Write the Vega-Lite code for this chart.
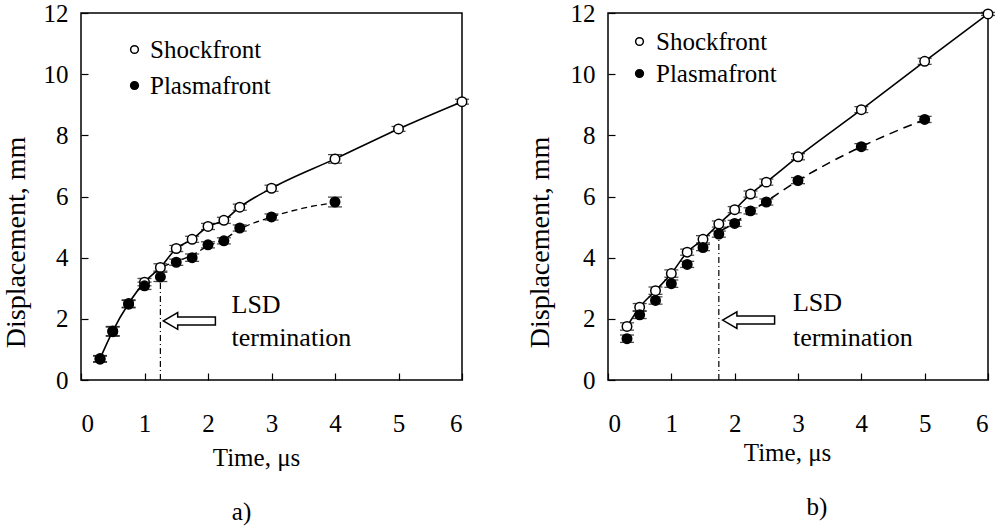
{
  "$schema": "https://vega.github.io/schema/vega-lite/v6.json",
  "background": "white",
  "padding": {"left": 1, "top": 0, "right": 5, "bottom": 0},
  "config": {
    "font": "Liberation Serif",
    "view": {"stroke": "black", "strokeWidth": 1.5},
    "axis": {
      "grid": false, "domain": false,
      "labelFont": "Liberation Serif", "labelFontSize": 25, "labelColor": "black",
      "titleFont": "Liberation Serif", "titleFontSize": 25, "titleFontWeight": "normal", "titleColor": "black",
      "tickColor": "black", "tickSize": -7, "tickWidth": 1.2
    },
    "legend": {"labelFont": "Liberation Serif", "labelFontSize": 25, "labelColor": "black"},
    "title": {"font": "Liberation Serif", "fontSize": 25, "fontWeight": "normal", "color": "black"}
  },
  "datasets": {
    "ptsA": [
      {"t": 0.3, "v": 0.7, "err": 0.1, "series": "Shockfront"},
      {"t": 0.5, "v": 1.6, "err": 0.15, "series": "Shockfront"},
      {"t": 0.75, "v": 2.5, "err": 0.12, "series": "Shockfront"},
      {"t": 1.0, "v": 3.2, "err": 0.12, "series": "Shockfront"},
      {"t": 1.25, "v": 3.68, "err": 0.12, "series": "Shockfront"},
      {"t": 1.5, "v": 4.3, "err": 0.1, "series": "Shockfront"},
      {"t": 1.75, "v": 4.6, "err": 0.1, "series": "Shockfront"},
      {"t": 2.0, "v": 5.02, "err": 0.1, "series": "Shockfront"},
      {"t": 2.25, "v": 5.22, "err": 0.1, "series": "Shockfront"},
      {"t": 2.5, "v": 5.65, "err": 0.1, "series": "Shockfront"},
      {"t": 3.0, "v": 6.27, "err": 0.1, "series": "Shockfront"},
      {"t": 4.0, "v": 7.23, "err": 0.14, "series": "Shockfront"},
      {"t": 5.0, "v": 8.21, "err": 0.08, "series": "Shockfront"},
      {"t": 6.0, "v": 9.1, "err": 0.08, "series": "Shockfront"},
      {"t": 0.3, "v": 0.68, "err": 0.1, "series": "Plasmafront"},
      {"t": 0.5, "v": 1.58, "err": 0.15, "series": "Plasmafront"},
      {"t": 0.75, "v": 2.48, "err": 0.12, "series": "Plasmafront"},
      {"t": 1.0, "v": 3.08, "err": 0.12, "series": "Plasmafront"},
      {"t": 1.25, "v": 3.37, "err": 0.15, "series": "Plasmafront"},
      {"t": 1.5, "v": 3.85, "err": 0.1, "series": "Plasmafront"},
      {"t": 1.75, "v": 4.0, "err": 0.12, "series": "Plasmafront"},
      {"t": 2.0, "v": 4.42, "err": 0.1, "series": "Plasmafront"},
      {"t": 2.25, "v": 4.55, "err": 0.1, "series": "Plasmafront"},
      {"t": 2.5, "v": 4.97, "err": 0.1, "series": "Plasmafront"},
      {"t": 3.0, "v": 5.33, "err": 0.1, "series": "Plasmafront"},
      {"t": 4.0, "v": 5.82, "err": 0.16, "series": "Plasmafront"}
    ],
    "dashA": [
      {"t": 1.3, "v": 3.72}, {"t": 1.5, "v": 3.87}, {"t": 1.75, "v": 4.08}, {"t": 2.0, "v": 4.38},
      {"t": 2.25, "v": 4.6}, {"t": 2.5, "v": 4.93}, {"t": 3.0, "v": 5.33}, {"t": 3.5, "v": 5.62}, {"t": 4.0, "v": 5.8}
    ],
    "ptsB": [
      {"t": 0.3, "v": 1.75, "err": 0.12, "series": "Shockfront"},
      {"t": 0.5, "v": 2.38, "err": 0.12, "series": "Shockfront"},
      {"t": 0.75, "v": 2.92, "err": 0.12, "series": "Shockfront"},
      {"t": 1.0, "v": 3.48, "err": 0.12, "series": "Shockfront"},
      {"t": 1.25, "v": 4.18, "err": 0.1, "series": "Shockfront"},
      {"t": 1.5, "v": 4.6, "err": 0.12, "series": "Shockfront"},
      {"t": 1.75, "v": 5.1, "err": 0.1, "series": "Shockfront"},
      {"t": 2.0, "v": 5.57, "err": 0.1, "series": "Shockfront"},
      {"t": 2.25, "v": 6.08, "err": 0.1, "series": "Shockfront"},
      {"t": 2.5, "v": 6.47, "err": 0.1, "series": "Shockfront"},
      {"t": 3.0, "v": 7.3, "err": 0.1, "series": "Shockfront"},
      {"t": 4.0, "v": 8.84, "err": 0.1, "series": "Shockfront"},
      {"t": 5.0, "v": 10.42, "err": 0.1, "series": "Shockfront"},
      {"t": 6.0, "v": 11.97, "err": 0.05, "series": "Shockfront"},
      {"t": 0.3, "v": 1.35, "err": 0.12, "series": "Plasmafront"},
      {"t": 0.5, "v": 2.13, "err": 0.12, "series": "Plasmafront"},
      {"t": 0.75, "v": 2.6, "err": 0.12, "series": "Plasmafront"},
      {"t": 1.0, "v": 3.15, "err": 0.12, "series": "Plasmafront"},
      {"t": 1.25, "v": 3.78, "err": 0.1, "series": "Plasmafront"},
      {"t": 1.5, "v": 4.33, "err": 0.1, "series": "Plasmafront"},
      {"t": 1.75, "v": 4.77, "err": 0.1, "series": "Plasmafront"},
      {"t": 2.0, "v": 5.12, "err": 0.1, "series": "Plasmafront"},
      {"t": 2.25, "v": 5.53, "err": 0.1, "series": "Plasmafront"},
      {"t": 2.5, "v": 5.82, "err": 0.1, "series": "Plasmafront"},
      {"t": 3.0, "v": 6.52, "err": 0.1, "series": "Plasmafront"},
      {"t": 4.0, "v": 7.63, "err": 0.1, "series": "Plasmafront"},
      {"t": 5.0, "v": 8.52, "err": 0.1, "series": "Plasmafront"}
    ],
    "dashB": [
      {"t": 1.78, "v": 4.88}, {"t": 2.0, "v": 5.14}, {"t": 2.25, "v": 5.5}, {"t": 2.5, "v": 5.84},
      {"t": 3.0, "v": 6.52}, {"t": 4.0, "v": 7.63}, {"t": 5.0, "v": 8.52}
    ],
    "lsdA": [{"t": 1.25, "y0": 0, "y1": 3.3}],
    "lsdB": [{"t": 1.75, "y0": 0, "y1": 4.6}],
    "arrowA": [{"t": 1.707, "v": 1.93}],
    "arrowB": [{"t": 2.22, "v": 1.96}],
    "textA": [{"t": 2.37, "v": 2.2, "label": "LSD"}, {"t": 2.37, "v": 1.11, "label": "termination"}],
    "textB": [{"t": 2.92, "v": 2.26, "label": "LSD"}, {"t": 2.92, "v": 1.11, "label": "termination"}]
  },
  "resolve": {"scale": {"fill": "independent"}, "legend": {"fill": "independent"}},
  "spacing": 54,
  "hconcat": [
    {
      "width": 381, "height": 367,
      "title": {"text": "a)", "orient": "bottom", "anchor": "middle", "dx": -30, "offset": 30},
      "encoding": {
        "x": {"field": "t", "type": "quantitative", "scale": {"domain": [0, 6], "nice": false},
              "axis": {"values": [0,1,2,3,4,5,6], "title": "Time, μs", "labelPadding": 38, "titleBaseline": "middle", "titleY": 77, "titleX": 175}},
        "y": {"field": "v", "type": "quantitative", "scale": {"domain": [0, 12], "nice": false},
              "axis": {"values": [0,2,4,6,8,10,12], "title": "Displacement, mm", "labelPadding": 20, "titleX": -65, "titleY": 229, "titleBaseline": "middle", "titleFontSize": 28}}
      },
      "layer": [
        {"data": {"name": "ptsA"}, "transform": [{"filter": "datum.series === 'Shockfront'"}],
         "mark": {"type": "line", "interpolate": "monotone", "color": "black", "strokeWidth": 1.6}},
        {"data": {"name": "dashA"}, "mark": {"type": "line", "interpolate": "monotone", "color": "black", "strokeWidth": 1.3, "strokeDash": [6, 4]}},
        {"data": {"name": "lsdA"}, "mark": {"type": "rule", "color": "black", "strokeWidth": 1.2, "strokeDash": [6, 3, 1, 3]},
         "encoding": {"y": {"field": "y0", "type": "quantitative"}, "y2": {"field": "y1"}}},
        {"data": {"name": "ptsA"}, "mark": {"type": "errorbar", "ticks": {"size": 14, "thickness": 1.3, "color": "black"}, "rule": {"color": "black", "strokeWidth": 1.2}},
         "encoding": {"yError": {"field": "err"}}},
        {"data": {"name": "ptsA"}, "mark": {"type": "point", "filled": true, "stroke": "black", "strokeWidth": 1.5, "size": 90, "opacity": 1},
         "encoding": {"fill": {"field": "series", "type": "nominal",
            "scale": {"domain": ["Shockfront", "Plasmafront"], "range": ["white", "black"]},
            "legend": {"title": null, "orient": "none", "legendX": 41, "legendY": 24, "symbolType": "circle", "symbolSize": 60, "symbolStrokeColor": "black", "symbolStrokeWidth": 1.5, "rowPadding": 10, "labelOffset": 3}}}},
        {"data": {"name": "arrowA"}, "mark": {"type": "point", "filled": true, "fill": "white", "stroke": "black", "strokeWidth": 1.5, "opacity": 1, "size": 2704,
           "shape": "M -1 0 L -0.45 -0.32 L -0.45 -0.154 L 1 -0.154 L 1 0.154 L -0.45 0.154 L -0.45 0.32 Z"}},
        {"data": {"name": "textA"}, "mark": {"type": "text", "align": "left", "baseline": "alphabetic", "fontSize": 26, "font": "Liberation Serif", "color": "black"},
         "encoding": {"text": {"field": "label"}}}
      ]
    },
    {
      "width": 380, "height": 367,
      "title": {"text": "b)", "orient": "bottom", "anchor": "middle", "dx": 19, "offset": 30},
      "encoding": {
        "x": {"field": "t", "type": "quantitative", "scale": {"domain": [0, 6], "nice": false},
              "axis": {"values": [0,1,2,3,4,5,6], "title": "Time, μs", "labelPadding": 38, "titleBaseline": "middle", "titleY": 72, "titleX": 179}},
        "y": {"field": "v", "type": "quantitative", "scale": {"domain": [0, 12], "nice": false},
              "axis": {"values": [0,2,4,6,8,10,12], "title": "Displacement, mm", "labelPadding": 20, "titleX": -68, "titleY": 229, "titleBaseline": "middle", "titleFontSize": 28}}
      },
      "layer": [
        {"data": {"name": "ptsB"}, "transform": [{"filter": "datum.series === 'Shockfront'"}],
         "mark": {"type": "line", "interpolate": "monotone", "color": "black", "strokeWidth": 1.6}},
        {"data": {"name": "dashB"}, "mark": {"type": "line", "interpolate": "monotone", "color": "black", "strokeWidth": 1.6, "strokeDash": [9, 6]}},
        {"data": {"name": "lsdB"}, "mark": {"type": "rule", "color": "black", "strokeWidth": 1.2, "strokeDash": [6, 3, 1, 3]},
         "encoding": {"y": {"field": "y0", "type": "quantitative"}, "y2": {"field": "y1"}}},
        {"data": {"name": "ptsB"}, "mark": {"type": "errorbar", "ticks": {"size": 14, "thickness": 1.3, "color": "black"}, "rule": {"color": "black", "strokeWidth": 1.2}},
         "encoding": {"yError": {"field": "err"}}},
        {"data": {"name": "ptsB"}, "mark": {"type": "point", "filled": true, "stroke": "black", "strokeWidth": 1.5, "size": 90, "opacity": 1},
         "encoding": {"fill": {"field": "series", "type": "nominal",
            "scale": {"domain": ["Shockfront", "Plasmafront"], "range": ["white", "black"]},
            "legend": {"title": null, "orient": "none", "legendX": 19, "legendY": 16, "symbolType": "circle", "symbolSize": 60, "symbolStrokeColor": "black", "symbolStrokeWidth": 1.5, "rowPadding": 6, "labelOffset": 4}}}},
        {"data": {"name": "arrowB"}, "mark": {"type": "point", "filled": true, "fill": "white", "stroke": "black", "strokeWidth": 1.5, "opacity": 1, "size": 2704,
           "shape": "M -1 0 L -0.45 -0.32 L -0.45 -0.154 L 1 -0.154 L 1 0.154 L -0.45 0.154 L -0.45 0.32 Z"}},
        {"data": {"name": "textB"}, "mark": {"type": "text", "align": "left", "baseline": "alphabetic", "fontSize": 26, "font": "Liberation Serif", "color": "black"},
         "encoding": {"text": {"field": "label"}}}
      ]
    }
  ]
}
